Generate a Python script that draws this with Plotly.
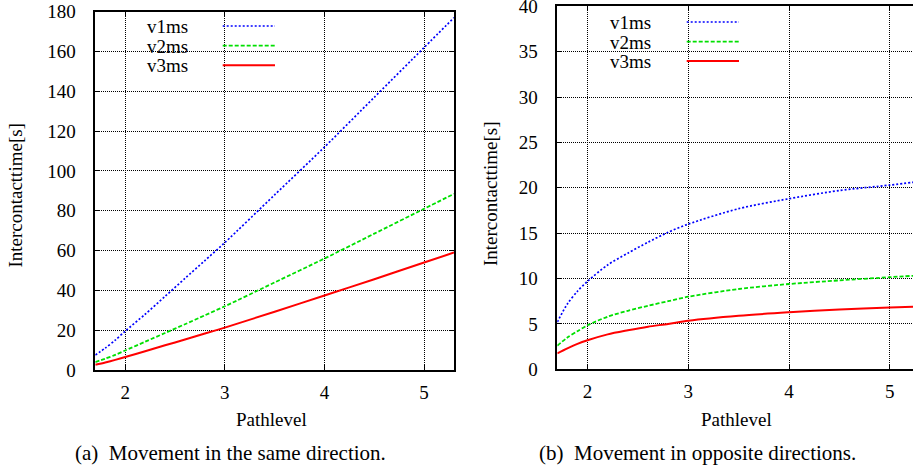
import plotly.graph_objects as go

# ---------------- data ----------------
pathlevel = [1.7, 1.8, 1.9, 2.0, 2.2, 2.4, 2.6, 2.8, 3.0, 3.5, 4.0, 4.5, 5.0, 5.3]

# (a) movement in the same direction
same_v1 = [7.5, 11.0, 15.0, 19.5, 28.0, 37.0, 46.0, 55.0, 64.0, 88.0, 112.0, 137.0, 162.0, 177.0]
same_v2 = [4.0, 5.7, 7.6, 9.8, 14.2, 18.6, 23.0, 27.5, 32.0, 44.0, 56.0, 68.5, 81.0, 88.5]
same_v3 = [2.6, 3.8, 5.1, 6.5, 9.4, 12.4, 15.3, 18.3, 21.3, 29.3, 37.4, 45.6, 54.0, 59.0]

# (b) movement in opposite directions
opp_v1 = [5.2, 7.2, 8.6, 9.7, 11.5, 12.8, 14.0, 15.1, 16.0, 17.7, 18.8, 19.7, 20.3, 20.7]
opp_v2 = [2.6, 3.5, 4.2, 4.85, 5.8, 6.45, 7.0, 7.5, 8.0, 8.85, 9.4, 9.8, 10.15, 10.35]
opp_v3 = [1.75, 2.3, 2.8, 3.2, 3.85, 4.3, 4.7, 5.0, 5.35, 5.9, 6.28, 6.6, 6.8, 6.92]

series_names = ["v1ms", "v2ms", "v3ms"]
x_ticks = [2, 3, 4, 5]
y_ticks_a = [0, 20, 40, 60, 80, 100, 120, 140, 160, 180]
y_ticks_b = [0, 5, 10, 15, 20, 25, 30, 35, 40]
x_title = "Pathlevel"
y_title = "Intercontacttime[s]"
caption_a = "(a)\u00a0 Movement in the same direction."
caption_b = "(b)\u00a0 Movement in opposite directions."

# ---------------- styling ----------------
W, H = 913, 470
FONT = "Liberation Serif, Times New Roman, Times, serif"
FS = 19
styles = [
    dict(color="#0000ff", width=1.7, dash="2px,2px"),
    dict(color="#00e000", width=1.8, dash="4px,2px"),
    dict(color="#ff0000", width=2.0, dash="solid"),
]


def px(x):
    return x / W


def py(y):
    return 1 - y / H


fig = go.Figure()

for ys, st, nm in zip([same_v1, same_v2, same_v3], styles, series_names):
    fig.add_trace(go.Scatter(x=pathlevel, y=ys, mode="lines", name=nm,
                             line=dict(shape="spline", smoothing=0.8, **st),
                             xaxis="x", yaxis="y", showlegend=False))
for ys, st, nm in zip([opp_v1, opp_v2, opp_v3], styles, series_names):
    fig.add_trace(go.Scatter(x=pathlevel, y=ys, mode="lines", name=nm,
                             line=dict(shape="spline", smoothing=0.8, **st),
                             xaxis="x2", yaxis="y2", showlegend=False))

axis_common = dict(
    showgrid=True, gridcolor="#000000", gridwidth=1, griddash="1px,1px",
    showline=True, linecolor="#000000", linewidth=1.5,
    ticks="inside", ticklen=5, tickwidth=1, tickcolor="#000000",
    zeroline=False, tickfont=dict(family=FONT, size=FS, color="#000000"),
    automargin=False, ticklabeloverflow="allow",
)

fig.update_layout(
    width=W, height=H,
    margin=dict(l=0, r=0, t=0, b=0),
    paper_bgcolor="white", plot_bgcolor="white",
    font=dict(family=FONT, size=FS, color="#000000"),
    xaxis=dict(domain=[px(95.3), px(454)], range=[1.7, 5.3], tickvals=x_ticks,
               mirror="ticks", anchor="y", ticklabelstandoff=4, **axis_common),
    yaxis=dict(domain=[py(370), py(11.7)], range=[0, 180], tickvals=y_ticks_a,
               mirror="ticks", anchor="x", ticklabelstandoff=14, **axis_common),
    xaxis2=dict(domain=[px(557.3), 1.0], range=[1.7, 5.23], tickvals=x_ticks,
                mirror="ticks", anchor="y2", ticklabelstandoff=4, **axis_common),
    yaxis2=dict(domain=[py(369.3), py(6.3)], range=[0, 40], tickvals=y_ticks_b,
                mirror=False, anchor="x2", ticklabelstandoff=14, **axis_common),
)

shapes = []
annotations = []

# manual gnuplot-style keys (text left, sample right)
keys = [
    dict(box=(107, 287, 13, 75), text_x=145.0, text_y=[26.7, 46.7, 66.0],
         line_x=(222.7, 275), line_y=[26.0, 45.7, 65.3]),
    dict(box=(570, 750.7, 7.5, 71.7), text_x=607.5, text_y=[22.7, 42.3, 62.0],
         line_x=(686.7, 739), line_y=[22.0, 41.7, 61.0]),
]
for k in keys:
    x0, x1, y0, y1 = k["box"]
    shapes.append(dict(type="rect", xref="paper", yref="paper",
                       x0=px(x0), x1=px(x1), y0=py(y1), y1=py(y0),
                       fillcolor="white", line=dict(width=0), layer="between"))
    for nm, st, ty, ly in zip(series_names, styles, k["text_y"], k["line_y"]):
        annotations.append(dict(text=nm, xref="paper", yref="paper",
                                x=px(k["text_x"]), y=py(ty), xanchor="left",
                                yanchor="middle", showarrow=False,
                                font=dict(family=FONT, size=FS)))
        shapes.append(dict(type="line", xref="paper", yref="paper",
                           x0=px(k["line_x"][0]), x1=px(k["line_x"][1]),
                           y0=py(ly), y1=py(ly),
                           line=dict(color=st["color"], width=st["width"], dash=st["dash"]),
                           layer="above"))

# axis titles and captions
for (x, y, t, ang, fs) in [(271.7, 419, x_title, 0, FS), (736, 419, x_title, 0, FS),
                           (16, 195.6, y_title, -90, FS), (490, 194, y_title, -90, FS),
                           (230.5, 453, caption_a, 0, 21), (697.7, 453, caption_b, 0, 21)]:
    annotations.append(dict(text=t, xref="paper", yref="paper", x=px(x), y=py(y),
                            xanchor="center", yanchor="middle", showarrow=False,
                            textangle=ang, font=dict(family=FONT, size=fs)))

fig.update_layout(shapes=shapes, annotations=annotations)

fig.write_html("out.html", config={"displayModeBar": False},
               post_script="document.body.style.margin='0';document.body.style.overflow='hidden';")
